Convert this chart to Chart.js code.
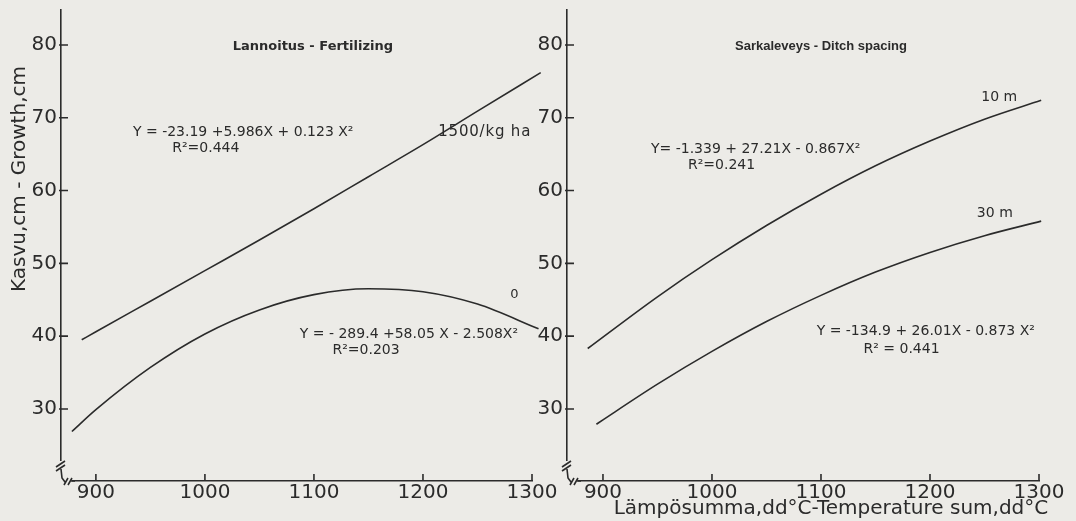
<!DOCTYPE html>
<html>
<head>
<meta charset="utf-8">
<script src="https://cdn.jsdelivr.net/npm/chart.js@4.4.0/dist/chart.umd.min.js"></script>
<style>
  html, body { margin: 0; padding: 0; background: #ecebe7; }
  #wrap { position: relative; width: 1076px; height: 521px; overflow: hidden; }
  canvas { position: absolute; top: 0; }
  #left { left: 0; }
  #right { left: 536px; }
</style>
</head>
<body>
<div id="wrap">
  <canvas id="left" width="560" height="521"></canvas>
  <canvas id="right" width="540" height="521"></canvas>
</div>
<script>
// akselit
const xTicks = [900, 1000, 1100, 1200, 1300];
const yTicks = [30, 40, 50, 60, 70, 80];

// Lannoitus 1500 kg/ha (luettu kuvasta)
const fert1500X = [887, 900, 950, 1000, 1050, 1100, 1150, 1200, 1250, 1308];
const fert1500Y = [39.5, 40.6, 44.8, 49.0, 53.2, 57.5, 61.9, 66.3, 70.9, 76.2];
// Lannoitus 0 kg/ha
const fert0X = [878, 900, 950, 1000, 1050, 1100, 1150, 1200, 1250, 1306];
const fert0Y = [26.9, 29.9, 35.7, 40.3, 43.6, 45.7, 46.5, 46.1, 44.4, 41.0];
// Sarkaleveys 10 m
const ditch10X = [886, 950, 1000, 1050, 1100, 1150, 1200, 1250, 1302];
const ditch10Y = [38.3, 45.4, 50.5, 55.2, 59.5, 63.4, 66.8, 69.8, 72.4];
// Sarkaleveys 30 m
const ditch30X = [894, 900, 950, 1000, 1050, 1100, 1150, 1200, 1250, 1302];
const ditch30Y = [27.9, 28.5, 33.4, 37.9, 42.0, 45.6, 48.8, 51.5, 53.8, 55.8];

const INK = '#2b2b2b';
const BG = '#ecebe7';
const FONT = '"DejaVu Sans", sans-serif';

function pts(xs, ys) {
  return xs.map((x, i) => ({ x: x, y: ys[i] }));
}

function curve(xs, ys) {
  return {
    data: pts(xs, ys),
    borderColor: INK,
    borderWidth: 1.6,
    pointRadius: 0,
    cubicInterpolationMode: 'monotone',
    clip: false
  };
}

// tekstit kuvaan (data-koordinaatit) + akselien otsikot (pikselit)
function notesPlugin(items, titles) {
  return {
    id: 'notes',
    afterDatasetsDraw(chart) {
      const { ctx, scales: { x, y } } = chart;
      ctx.save();
      ctx.fillStyle = INK;
      ctx.textBaseline = 'middle';
      items.forEach(n => {
        ctx.font = n.font;
        ctx.textAlign = n.align || 'left';
        ctx.letterSpacing = n.spacing || '0px';
        ctx.fillText(n.text, x.getPixelForValue(n.x), y.getPixelForValue(n.y));
      });
      ctx.letterSpacing = '0px';
      (titles || []).forEach(t => {
        ctx.save();
        ctx.translate(t.px, t.py);
        ctx.rotate(t.rot || 0);
        ctx.font = t.font;
        ctx.textAlign = 'center';
        ctx.fillText(t.text, 0, 0);
        ctx.restore();
      });
      ctx.restore();
    }
  };
}

// jakoviivat akselien sisäpuolelle + akselikatko kulmassa
const axisPlugin = {
  id: 'axisMarks',
  afterDraw(chart) {
    const { ctx, chartArea, scales: { x, y } } = chart;
    const xa = chartArea.left, yb = chartArea.bottom;
    ctx.save();
    ctx.strokeStyle = INK;
    ctx.lineWidth = 1.6;
    ctx.beginPath();
    xTicks.forEach(v => {
      const px = x.getPixelForValue(v);
      ctx.moveTo(px, yb); ctx.lineTo(px, yb - 7);
    });
    yTicks.forEach(v => {
      const py = y.getPixelForValue(v);
      ctx.moveTo(xa - 2, py); ctx.lineTo(xa + 7, py);
    });
    ctx.stroke();

    ctx.fillStyle = BG;
    ctx.fillRect(xa - 3, yb - 20, 6, 23);
    ctx.fillRect(xa - 3, yb - 3, 14, 6);
    ctx.beginPath();
    ctx.moveTo(xa - 5, yb - 14); ctx.lineTo(xa + 4, yb - 20);
    ctx.moveTo(xa - 5, yb - 10); ctx.lineTo(xa + 4, yb - 16);
    ctx.moveTo(xa, yb - 12); ctx.lineTo(xa + 1, yb - 3); ctx.lineTo(xa + 4, yb + 1);
    ctx.moveTo(xa + 3, yb + 4); ctx.lineTo(xa + 7, yb - 3);
    ctx.moveTo(xa + 7, yb + 4); ctx.lineTo(xa + 11, yb - 3);
    ctx.moveTo(xa + 10, yb); ctx.lineTo(xa + 14, yb);
    ctx.stroke();
    ctx.restore();
  }
};

function makeChart(id, datasets, o) {
  return new Chart(document.getElementById(id), {
    type: 'line',
    data: { datasets: datasets },
    options: {
      responsive: false,
      animation: false,
      events: [],
      layout: { padding: { left: 0, right: o.padRight, top: 10, bottom: 0 } },
      plugins: { legend: { display: false }, tooltip: { enabled: false } },
      scales: {
        x: {
          type: 'linear',
          min: o.xMin,
          max: 1300,
          afterBuildTicks: s => { s.ticks = xTicks.map(v => ({ value: v })); },
          afterFit: s => { s.height = 40; s.paddingLeft = 0; s.paddingRight = 0; },
          border: { display: true, color: INK, width: 1.6 },
          grid: { display: true, drawOnChartArea: false, drawTicks: false },
          ticks: { color: INK, font: { family: FONT, size: 20 }, padding: 0, maxRotation: 0,
                   autoSkip: false, callback: v => String(v) }
        },
        y: {
          type: 'linear',
          min: 20.1,
          max: 84.8,
          afterBuildTicks: s => { s.ticks = yTicks.map(v => ({ value: v })); },
          afterFit: s => { s.width = o.yWidth; s.paddingTop = 0; s.paddingBottom = 0; },
          border: { display: true, color: INK, width: 1.6 },
          grid: { display: true, drawOnChartArea: false, drawTicks: false },
          ticks: { color: INK, font: { family: FONT, size: 20 }, padding: 4,
                   callback: v => String(v) }
        }
      }
    },
    plugins: [notesPlugin(o.notes, o.titles), axisPlugin]
  });
}

const eqFont = '14px ' + FONT;

makeChart('left', [curve(fert1500X, fert1500Y), curve(fert0X, fert0Y)], {
  xMin: 868, yWidth: 61, padRight: 28,
  notes: [
    { text: 'Lannoitus - Fertilizing', x: 1099, y: 79.8, align: 'center', font: 'bold 13px ' + FONT },
    { text: 'Y = -23.19 +5.986X + 0.123 X²', x: 934, y: 68.0, font: eqFont },
    { text: 'R²=0.444', x: 970, y: 65.8, font: eqFont },
    { text: '1500/kg ha', x: 1214, y: 68.0, font: '15px ' + FONT, spacing: '0.8px' },
    { text: '0', x: 1280, y: 45.7, font: '13px ' + FONT },
    { text: 'Y = - 289.4 +58.05 X - 2.508X²', x: 1087, y: 40.2, font: eqFont },
    { text: 'R²=0.203', x: 1117, y: 38.1, font: eqFont }
  ],
  titles: [
    { text: 'Kasvu,cm - Growth,cm', px: 20, py: 179, rot: -Math.PI / 2, font: '20px ' + FONT }
  ]
});

makeChart('right', [curve(ditch10X, ditch10Y), curve(ditch30X, ditch30Y)], {
  xMin: 867, yWidth: 31, padRight: 37,
  notes: [
    { text: 'Sarkaleveys - Ditch spacing', x: 1100, y: 79.8, align: 'center',
      font: 'bold 13px "Liberation Sans", sans-serif' },
    { text: 'Y= -1.339 + 27.21X - 0.867X²', x: 944, y: 65.6, font: eqFont },
    { text: 'R²=0.241', x: 978, y: 63.5, font: eqFont },
    { text: '10 m', x: 1247, y: 72.8, font: eqFont },
    { text: '30 m', x: 1243, y: 56.9, font: eqFont },
    { text: 'Y = -134.9 + 26.01X - 0.873 X²', x: 1096, y: 40.6, font: eqFont },
    { text: 'R² = 0.441', x: 1139, y: 38.2, font: eqFont }
  ],
  titles: [
    { text: 'Lämpösumma,dd°C-Temperature sum,dd°C', px: 295, py: 509, font: '20px ' + FONT }
  ]
});
</script>
</body>
</html>
